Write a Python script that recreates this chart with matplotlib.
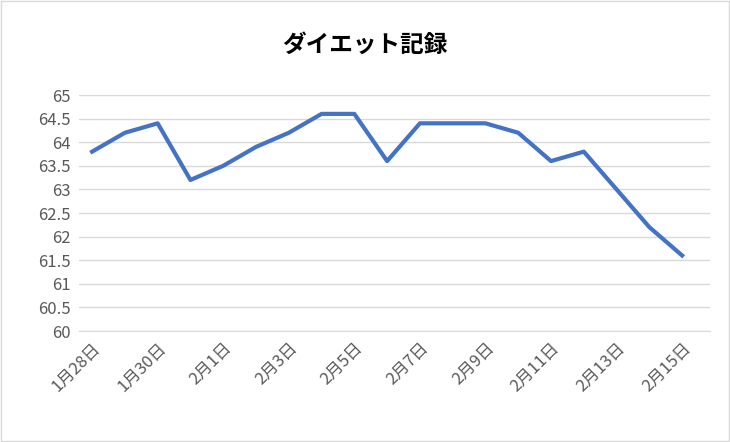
import matplotlib
matplotlib.use("Agg")
import matplotlib.pyplot as plt

plt.rcParams['font.family'] = ['Noto Sans CJK JP', 'DejaVu Sans']

dates = ["1月28日","1月29日","1月30日","1月31日","2月1日","2月2日","2月3日","2月4日","2月5日","2月6日",
         "2月7日","2月8日","2月9日","2月10日","2月11日","2月12日","2月13日","2月14日","2月15日"]
weights = [63.8,64.2,64.4,63.2,63.5,63.9,64.2,64.6,64.6,63.6,64.4,64.4,64.4,64.2,63.6,63.8,63.0,62.2,61.6]

fig = plt.figure(figsize=(7.30,4.42), dpi=100)
ax = fig.add_axes([79/730, 1-331/442, (710-79)/730, (331-95)/442])
x = list(range(len(dates)))
ax.plot(x, weights, color='#4472C4', linewidth=3, solid_joinstyle='round')
ax.set_xlim(-0.4, len(dates)-0.15)
ax.set_ylim(60, 65)
ax.set_yticks([60+0.5*i for i in range(11)])
ax.set_yticklabels([f"{60+0.5*i:g}" for i in range(11)], fontsize=12, color='#595959')
ax.set_xticks(x[::2])
ax.set_xticklabels(dates[::2], rotation=45, ha='right', rotation_mode='anchor', fontsize=12, color='#595959')
ax.grid(axis='y', color='#D9D9D9', linewidth=1)
ax.set_axisbelow(True)
for s in ['top','right','left']:
    ax.spines[s].set_visible(False)
ax.spines['bottom'].set_color('#D9D9D9')
ax.tick_params(axis='y', length=0, pad=6)
ax.tick_params(axis='x', length=0, pad=6)
fig.text(0.5, 1-45/442, "ダイエット記録", ha='center', va='center', fontsize=17, fontweight='bold')
fig.patches.append(plt.Rectangle((0.002,0.002),0.996,0.996, transform=fig.transFigure, fill=False, edgecolor='#D9D9D9', linewidth=1))
fig.savefig("out.png", dpi=100)
